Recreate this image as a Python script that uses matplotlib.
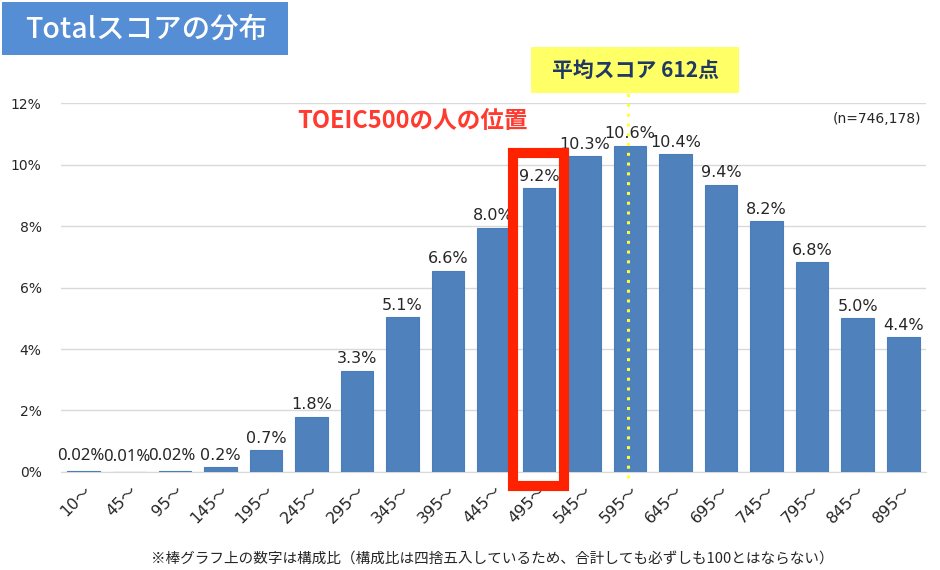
import matplotlib.pyplot as plt
from matplotlib.patches import Rectangle

plt.rcParams['font.family'] = ['DejaVu Sans', 'Noto Sans CJK JP']
JP = ['Noto Sans CJK JP', 'DejaVu Sans']

# data
categories = ['10', '45', '95', '145', '195', '245', '295', '345', '395', '445',
              '495', '545', '595', '645', '695', '745', '795', '845', '895']
share = [0.02, 0.01, 0.03, 0.15, 0.7, 1.8, 3.3, 5.05, 6.55, 7.95,
         9.23, 10.27, 10.62, 10.35, 9.35, 8.17, 6.82, 5.02, 4.4]
value_labels = ['0.02%', '0.01%', '0.02%', '0.2%', '0.7%', '1.8%', '3.3%', '5.1%',
                '6.6%', '8.0%', '9.2%', '10.3%', '10.6%', '10.4%', '9.4%', '8.2%',
                '6.8%', '5.0%', '4.4%']
y_ticks = [0, 2, 4, 6, 8, 10, 12]
mean_pos = 11.95      # 612 points, just left of the 595 bar centre
highlight = 10        # 495~ bar

fig = plt.figure(figsize=(9.4, 5.7), dpi=100)
ax = fig.add_axes([0.065, 0.172, 0.92, 0.647])

x = range(len(categories))
ax.bar(x, share, width=0.72, color='#4F81BD', edgecolor='#4A7EBB', linewidth=0.8, zorder=3)

for i, (v, lab) in enumerate(zip(share, value_labels)):
    if v < 0.1:
        # the tiny ones are set narrower so they fit next to each other
        ax.annotate(lab, (i, v), xytext=(-2, 5), textcoords='offset points',
                    ha='center', va='bottom', fontsize=12, family='Noto Sans',
                    color='#262626', zorder=5)
    else:
        ax.annotate(lab, (i, v), xytext=(0, 3), textcoords='offset points',
                    ha='center', va='bottom', fontsize=11.5, color='#262626', zorder=5)

ax.set_xlim(-0.5, len(categories) - 0.5)
ax.set_ylim(0, 12)
ax.set_yticks(y_ticks)
ax.set_yticklabels([f'{t}%' for t in y_ticks], fontsize=10, color='#262626')
ax.set_xticks(list(x))
ax.set_xticklabels([c + '～' for c in categories], rotation=45, ha='right',
                   rotation_mode='anchor', fontsize=11.5, color='#262626')
ax.tick_params(length=0)
ax.tick_params(axis='y', pad=14)
ax.tick_params(axis='x', pad=8)
ax.grid(axis='y', color='#D9D9D9', linewidth=1, zorder=0)
for s in ['top', 'right', 'left']:
    ax.spines[s].set_visible(False)
ax.spines['bottom'].set_color('#D9D9D9')

# mean line
ax.plot([mean_pos, mean_pos], [-0.2, 12.6], linestyle=(0, (1, 2.2)), color='#FFFF33',
        linewidth=2.2, clip_on=False, zorder=4)

# red box round the 495~ bar
rect = Rectangle((9.43, -0.46), 1.12, 10.83, fill=False,
                 edgecolor='#FF2200', linewidth=7.3, clip_on=False, zorder=6)
ax.add_patch(rect)

ax.text(9.76, 11.41, 'TOEIC500の人の位置', ha='right', va='center', family=JP,
        fontsize=17, fontweight='bold', color='#FF3B30')
ax.text(18.4, 11.5, '(n=746,178)', ha='right', va='center', fontsize=10, color='#262626')

# title box
fig.patches.append(Rectangle((2 / 940, 1 - 55 / 570), 286 / 940, 53 / 570,
                             transform=fig.transFigure, facecolor='#558ED5',
                             edgecolor='none', zorder=0))
fig.text(146 / 940, 1 - 29 / 570, 'Totalスコアの分布', ha='center', va='center',
         fontsize=20.5, color='white', fontweight='medium', family=JP)

# mean score label
fig.patches.append(Rectangle((531 / 940, 1 - 93 / 570), 208 / 940, 46 / 570,
                             transform=fig.transFigure, facecolor='#FFFF66',
                             edgecolor='none', zorder=0))
fig.text(636 / 940, 1 - 70 / 570, '平均スコア 612点', ha='center', va='center',
         fontsize=15, fontweight='bold', color='#1F3864', family=JP)

fig.text(0.524, 0.018, '※棒グラフ上の数字は構成比（構成比は四捨五入しているため、合計しても必ずしも100とはならない）',
         ha='center', va='center', fontsize=10.5, color='#262626', family=JP)

fig.savefig('out.png', dpi=100)
